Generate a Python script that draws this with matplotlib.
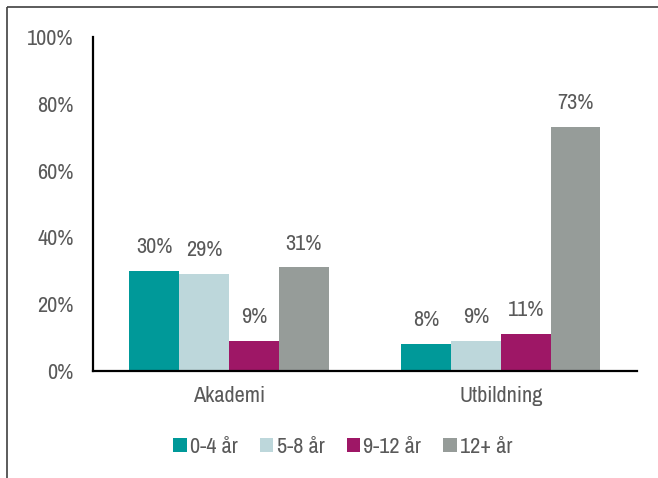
import matplotlib
matplotlib.use('Agg')
import matplotlib.pyplot as plt
from matplotlib.lines import Line2D
import numpy as np

plt.rcParams['font.family'] = ['Archivo Narrow', 'DejaVu Sans']

# data
categories = ['Akademi', 'Utbildning']
groups = ['0-4 år', '5-8 år', '9-12 år', '12+ år']
values = {
    '0-4 år': [30, 8],
    '5-8 år': [29, 9],
    '9-12 år': [9, 11],
    '12+ år': [31, 73],
}
colors = ['#009999', '#bdd7db', '#9e1766', '#969c99']
text_col = '#595959'
fs = 16

fig = plt.figure(figsize=(6.58, 4.78), dpi=100)
ax = fig.add_axes([0.1413, 0.2238, 0.8267, 0.6988])

x = np.arange(len(categories))
w = 0.183
for i, (g, c) in enumerate(zip(groups, colors)):
    xs = x + (i - 1.5) * w
    bars = ax.bar(xs, values[g], width=w, color=c, label=g, zorder=2)
    for b, v in zip(bars, values[g]):
        ax.annotate(f'{v}%', (b.get_x() + b.get_width() / 2, b.get_height()),
                    xytext=(0, 10), textcoords='offset points',
                    ha='center', va='bottom', fontsize=fs, color=text_col)

ax.set_xlim(-0.5, 1.5)
ax.set_ylim(0, 100)
ax.set_yticks(range(0, 101, 20))
ax.set_yticklabels([f'{t}%' for t in range(0, 101, 20)])
ax.set_xticks(x)
ax.set_xticklabels(categories)
ax.tick_params(axis='both', length=0, labelsize=fs, labelcolor=text_col)
ax.tick_params(axis='y', pad=14)
ax.tick_params(axis='x', pad=11)
for s in ['top', 'right']:
    ax.spines[s].set_visible(False)
for s in ['left', 'bottom']:
    ax.spines[s].set_linewidth(1.6)
    ax.spines[s].set_color('black')

fig.legend(*ax.get_legend_handles_labels(), loc='center',
           bbox_to_anchor=(343 / 658, 1 - 447 / 478), ncol=4, frameon=False,
           fontsize=fs, handlelength=0.6, handleheight=0.6, handletextpad=0.15,
           columnspacing=1.0, labelcolor=text_col)

# partial frame around the chart
fig.add_artist(Line2D([7 / 658, 1.0], [1 - 7 / 478, 1 - 7 / 478],
                      transform=fig.transFigure, color='#404040', lw=1.2,
                      solid_capstyle='butt'))
fig.add_artist(Line2D([7 / 658, 7 / 658], [0, 1 - 7 / 478],
                      transform=fig.transFigure, color='#404040', lw=1.2,
                      solid_capstyle='butt'))

fig.savefig('out.png', dpi=100)
